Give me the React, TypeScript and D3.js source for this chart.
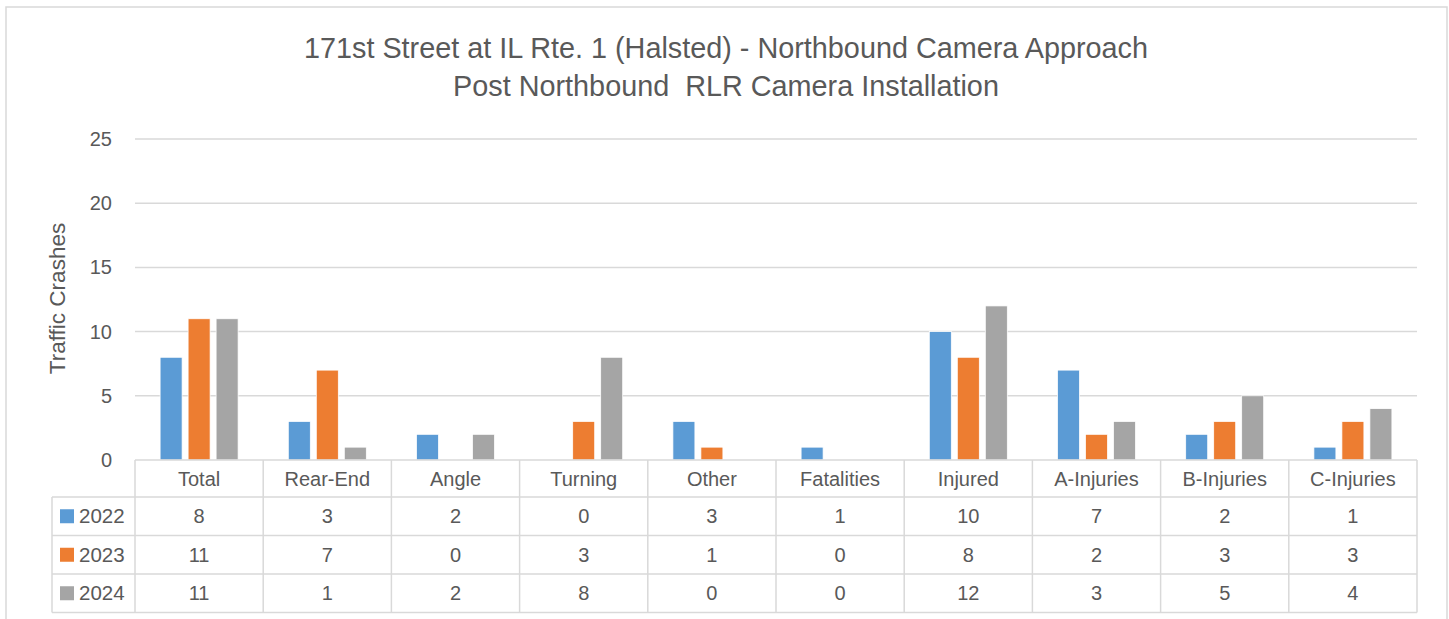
import * as d3 from 'd3';

const categories = ['Total', 'Rear-End', 'Angle', 'Turning', 'Other', 'Fatalities', 'Injured', 'A-Injuries', 'B-Injuries', 'C-Injuries'];
const years = ['2022', '2023', '2024'];
const values2022 = [8, 3, 2, 0, 3, 1, 10, 7, 2, 1];
const values2023 = [11, 7, 0, 3, 1, 0, 8, 2, 3, 3];
const values2024 = [11, 1, 2, 8, 0, 0, 12, 3, 5, 4];
const yTicks = [0, 5, 10, 15, 20, 25];
const colors = ['#5B9BD5', '#ED7D31', '#A5A5A5'];

const W = 1449;
const H = 619;
const FONT = '"Liberation Sans", Arial, sans-serif';
const TEXT = '#595959';
const GRID = '#d9d9d9';

export default function App() {
  const series = [values2022, values2023, values2024];
  const plot = { left: 135, right: 1417, top: 139, bottom: 460 };
  const rowH = 38.5;
  const tableLeft = 52;

  const x0 = d3.scaleBand<string>().domain(categories).range([plot.left, plot.right]);
  const cw = x0.bandwidth();
  // three bars of 22px with 6px gaps, centred in each category
  const x1 = d3
    .scaleBand<string>()
    .domain(years)
    .range([cw / 2 - 39, cw / 2 + 39])
    .paddingInner(6 / 28);
  const y = d3.scaleLinear().domain([0, 25]).range([plot.bottom, plot.top]);

  const headerBottom = plot.bottom + 37;
  const rowTop = (i: number) => headerBottom + i * rowH;
  const tableBottom = rowTop(years.length);

  return (
    <svg width={W} height={H} style={{ position: 'absolute', left: 0, top: 0, background: '#fff' }} fontFamily={FONT}>
      <rect x={6} y={7} width={1441} height={H + 10} fill="#fff" stroke={GRID} strokeWidth={1.5} />

      {/* title */}
      <text x={726} y={58} textAnchor="middle" fontSize={28.8} fill={TEXT}>
        171st Street at IL Rte. 1 (Halsted) - Northbound Camera Approach
      </text>
      <text x={726} y={96} textAnchor="middle" fontSize={28.8} fill={TEXT} style={{ whiteSpace: 'pre' }}>
        {'Post Northbound  RLR Camera Installation'}
      </text>

      {/* gridlines + y ticks */}
      {yTicks.map(t => (
        <g key={t}>
          {t > 0 && <line x1={plot.left} x2={plot.right} y1={y(t)} y2={y(t)} stroke={GRID} strokeWidth={1.5} />}
          <text x={112} y={y(t)} dy="0.35em" textAnchor="end" fontSize={20} fill={TEXT}>
            {t}
          </text>
        </g>
      ))}

      <text transform={`translate(65,${(plot.top + plot.bottom) / 2 - 1}) rotate(-90)`} textAnchor="middle" fontSize={22.5} fill={TEXT}>
        Traffic Crashes
      </text>

      {/* bars */}
      {categories.map((c, ci) => (
        <g key={c} transform={`translate(${x0(c)},0)`}>
          {years.map((yr, si) => {
            const v = series[si][ci];
            if (!v) return null;
            return <rect key={yr} x={x1(yr)} y={y(v)} width={x1.bandwidth()} height={y(0) - y(v)} fill={colors[si]} stroke="#fff" strokeWidth={0.75} />;
          })}
        </g>
      ))}

      {/* data table */}
      <g stroke={GRID} strokeWidth={1.5} fill="none">
        <line x1={plot.left} x2={plot.right} y1={plot.bottom} y2={plot.bottom} />
        {d3.range(years.length + 1).map(i => (
          <line key={i} x1={tableLeft} x2={plot.right} y1={rowTop(i)} y2={rowTop(i)} />
        ))}
        <line x1={tableLeft} x2={tableLeft} y1={headerBottom} y2={tableBottom} />
        {categories.map(c => (
          <line key={c} x1={x0(c)} x2={x0(c)} y1={plot.bottom} y2={tableBottom} />
        ))}
        <line x1={plot.right} x2={plot.right} y1={plot.bottom} y2={tableBottom} />
      </g>

      {categories.map(c => (
        <text key={c} x={(x0(c) ?? 0) + cw / 2} y={(plot.bottom + headerBottom) / 2} dy="0.35em" textAnchor="middle" fontSize={20} fill={TEXT}>
          {c}
        </text>
      ))}

      {years.map((yr, si) => {
        const cy = rowTop(si) + rowH / 2;
        return (
          <g key={yr}>
            <rect x={60} y={cy - 7} width={14} height={14} fill={colors[si]} />
            <text x={79} y={cy} dy="0.35em" fontSize={20.5} fill={TEXT}>
              {yr}
            </text>
            {categories.map((c, ci) => (
              <text key={c} x={(x0(c) ?? 0) + cw / 2} y={cy} dy="0.35em" textAnchor="middle" fontSize={20} fill={TEXT}>
                {series[si][ci]}
              </text>
            ))}
          </g>
        );
      })}
    </svg>
  );
}
